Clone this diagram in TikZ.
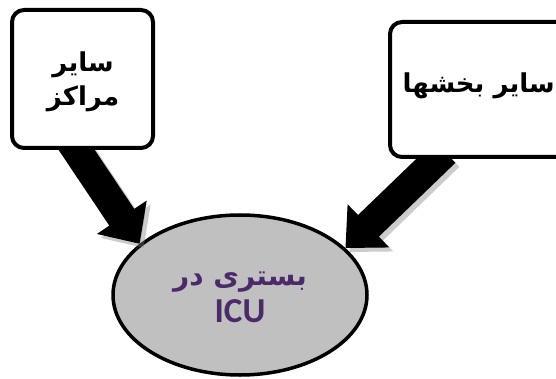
\documentclass[tikz,border=0pt]{standalone}
\usepackage{fontspec}
\usetikzlibrary{shapes.geometric,arrows.meta}
\newfontfamily\arabicfont[Script=Arabic]{DejaVu Sans}
\newfontfamily\latinfont{Carlito}
\TeXXeTstate=1
\definecolor{icugray}{HTML}{C0C0C0}
\definecolor{icutext}{HTML}{4A2A6A}
\begin{document}
\begin{tikzpicture}[x=1pt,y=-1pt,
  box/.style={draw=black, line width=4pt, rounded corners=12pt, fill=white, inner sep=0pt},
  bigarrow/.style={line width=30pt, -{Triangle[width=58pt,length=32pt]}},
  arrowshade/.style={bigarrow, draw=black!50, opacity=0.4},
  fa/.style={font=\arabicfont\bfseries\fontsize{26}{34}\selectfont, align=center}]
\useasboundingbox (0,0) rectangle (556,379);

% target ellipse
\node[ellipse, draw=black, line width=3.5pt, fill=icugray,
      minimum width=254pt, minimum height=160pt, inner sep=0pt] (icu) at (240,295) {};
\node[font=\arabicfont\bfseries\fontsize{28}{34}\selectfont, text=icutext, align=center]
  (icutext) at (240,297) {\beginR بستری در\endR\\[3pt]{\latinfont\bfseries\fontsize{35}{34}\selectfont ICU}};

% arrow end points (tails sit under the boxes)
\coordinate (lt) at (70,140);
\coordinate (rt) at (445,152);

% arrow shadows
\draw[arrowshade] ([shift={(4,4)}]lt) -- ([shift={(4,4)}]icu.153);
\draw[arrowshade] ([shift={(4,4)}]rt) -- ([shift={(4,4)}]icu.24);
% arrows
\draw[bigarrow] (lt) -- (icu.153);
\draw[bigarrow] (rt) -- (icu.24);

% source boxes
\node[box, minimum width=141pt, minimum height=138pt] (centers) at (82.5,79) {};
\node[fa] (centerslabel) at (83,82) {\beginR سایر\endR\\\beginR مراکز\endR};
\node[box, minimum width=200pt, minimum height=135pt] (wards) at (490,89.5) {};
\node[fa, anchor=east, inner sep=1pt] (wardslabel) at (556,86) {\beginR سایر بخشها\endR};
\end{tikzpicture}
\end{document}
